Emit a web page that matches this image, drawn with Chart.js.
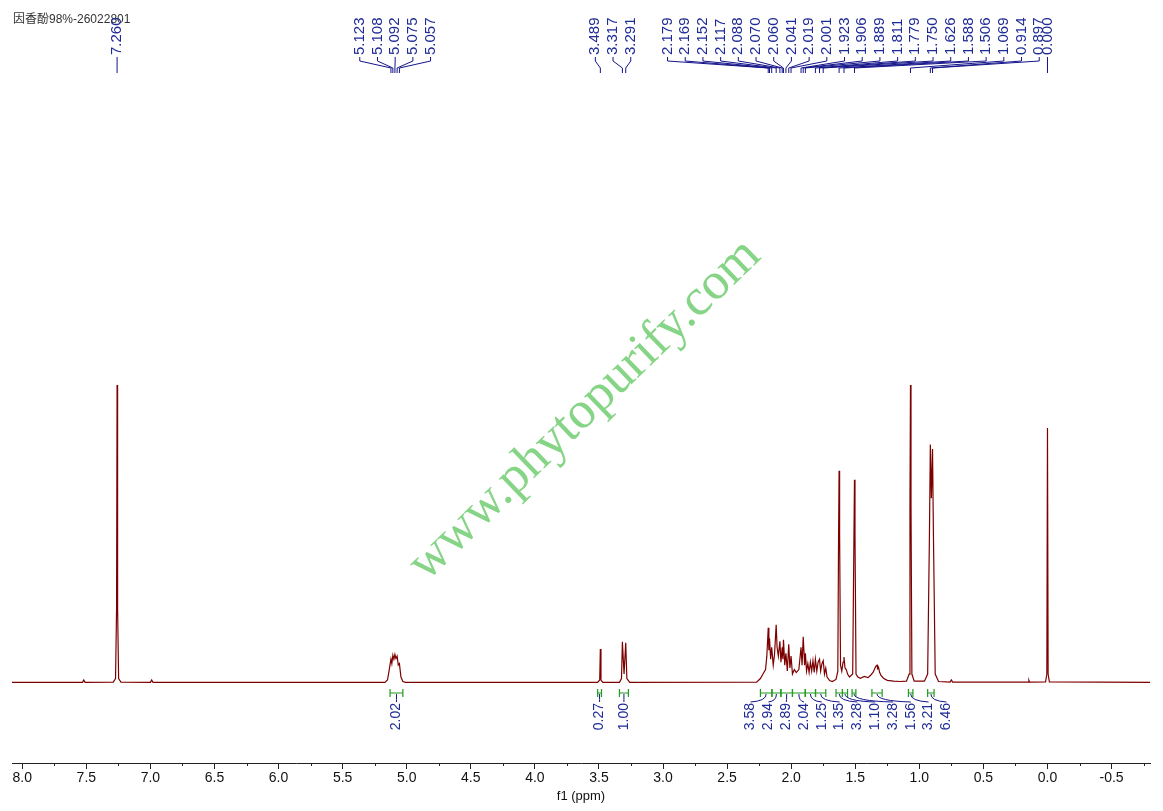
<!DOCTYPE html>
<html>
<head>
<meta charset="utf-8">
<script src="https://cdn.jsdelivr.net/npm/chart.js@4.4.1/dist/chart.umd.min.js"></script>
<style>
  html, body { margin: 0; background: #fff; }
  #wrap { width: 1163px; height: 811px; }
</style>
</head>
<body>
<div id="wrap"><canvas id="nmr"></canvas></div>
<script>
// spectrum trace (ppm / relative intensity)
const specPpm = [8.08, 7.53, 7.52, 7.51, 7.29, 7.272, 7.264, 7.260, 7.256, 7.248, 7.23,
  7.00, 6.99, 6.98,
  5.17, 5.15, 5.14, 5.123, 5.116, 5.108, 5.100, 5.092, 5.084, 5.075, 5.066, 5.057, 5.045, 5.03, 5.01,
  3.51, 3.494, 3.489, 3.484, 3.47,
  3.34, 3.324, 3.317, 3.304, 3.291, 3.282, 3.26,
  2.27, 2.24, 2.22, 2.20, 2.19, 2.179, 2.174, 2.169, 2.160, 2.152, 2.140, 2.130, 2.117, 2.110, 2.100,
  2.088, 2.080, 2.070, 2.065, 2.060, 2.050, 2.041, 2.030, 2.019, 2.010, 2.001, 1.990, 1.975, 1.960,
  1.940, 1.923, 1.915, 1.906, 1.895, 1.889, 1.880, 1.870, 1.860, 1.850, 1.840, 1.830, 1.820, 1.811,
  1.800, 1.790, 1.779, 1.770, 1.760, 1.750, 1.740, 1.730, 1.720, 1.700, 1.680, 1.650,
  1.636, 1.630, 1.626, 1.622, 1.615, 1.605, 1.595, 1.588, 1.580, 1.570, 1.560, 1.545,
  1.520, 1.510, 1.506, 1.502, 1.494, 1.480, 1.460, 1.430, 1.400, 1.380, 1.360, 1.350, 1.340,
  1.330, 1.325, 1.318, 1.310, 1.300, 1.280, 1.250, 1.200, 1.150, 1.100,
  1.080, 1.073, 1.069, 1.065, 1.058, 1.040, 0.960,
  0.935, 0.921, 0.914, 0.906, 0.897, 0.890, 0.876, 0.850,
  0.760, 0.750, 0.740, 0.150, 0.145, 0.140,
  0.015, 0.005, 0.000, -0.005, -0.015, -0.80];
const specInt = [0.2, 0.2, 1.0, 0.2, 0.3, 1.5, 25, 100, 25, 1.5, 0.3,
  0.2, 1.0, 0.2,
  0.2, 1.0, 3.5, 8.0, 6.5, 9.3, 8.0, 9.6, 8.2, 9.0, 6.0, 6.5, 2.0, 0.5, 0.2,
  0.2, 1.0, 11.4, 1.0, 0.2,
  0.2, 1.5, 13.8, 3.0, 13.5, 1.5, 0.2,
  0.3, 1.5, 3.0, 4.5, 9, 18.5, 11, 15, 8, 12, 6, 9.5, 19.5, 12, 9,
  14, 7, 12, 8, 14.5, 6, 10, 4, 13, 5, 9, 3, 4.5, 3.5,
  4.5, 12, 6, 15.5, 6, 10, 4, 6.5, 3.5, 7, 4, 7.5, 3.5, 8,
  4, 7, 8, 4, 6.5, 7.5, 3, 5, 2, 0.8, 0.5, 1.2,
  4, 50, 71.2, 50, 6, 4, 7, 8.7, 5, 4.5, 3, 2,
  3, 50, 68.2, 50, 3, 2, 1.6, 2.2, 1.8, 2.6, 3.6, 4.6, 5.6,
  6.0, 4.8, 5.2, 3.6, 2.6, 1.6, 0.9, 0.6, 0.5, 0.6,
  3, 60, 100, 60, 3, 0.6, 0.6,
  3, 50, 80, 62, 78.5, 50, 3, 0.5,
  0.3, 1.0, 0.3, 0.3, 0.9, 0.3,
  0.4, 3, 85.6, 3, 0.4, 0.2];

// picked peaks and their label groups
const peakPpm = [7.260, 5.123, 5.108, 5.092, 5.075, 5.057, 3.489, 3.317, 3.291,
  2.179, 2.169, 2.152, 2.117, 2.088, 2.070, 2.060, 2.041, 2.019, 2.001, 1.923, 1.906, 1.889,
  1.811, 1.779, 1.750, 1.626, 1.588, 1.506, 1.069, 0.914, 0.897, 0.000];
const peakGroup = [0, 1, 1, 1, 1, 1, 2, 2, 2,
  3, 3, 3, 3, 3, 3, 3, 3, 3, 3, 3, 3, 3, 3, 3, 3, 3, 3, 3, 3, 3, 3, 4];

// integrals
const intFrom = [5.13, 3.51, 3.34, 2.24, 2.15, 2.08, 1.99, 1.89, 1.81, 1.65, 1.60, 1.525, 1.37, 1.085, 0.935];
const intTo   = [5.03, 3.48, 3.27, 2.15, 2.08, 1.99, 1.89, 1.81, 1.73, 1.60, 1.56, 1.495, 1.29, 1.05, 0.885];
const intVal  = [2.02, 0.27, 1.00, 3.58, 2.94, 2.89, 2.04, 1.25, 1.35, 3.28, 1.10, 3.28, 1.56, 3.21, 6.46];
const intGroup = [0, 1, 2, 3, 3, 3, 3, 3, 3, 3, 3, 3, 3, 3, 3];

const xMin = -0.80, xMax = 8.08;
const title = '因香酚98%-26022801';

const points = specPpm.map((p, i) => ({ x: p, y: specInt[i] }));

// spread labels of one group evenly around the middle of its marks
function spread(pix, groups, gap, shift) {
  const out = [];
  const ids = [...new Set(groups)];
  ids.forEach(g => {
    const idx = groups.map((v, i) => v === g ? i : -1).filter(i => i >= 0);
    const xs = idx.map(i => pix[i]);
    const mid = (Math.min(...xs) + Math.max(...xs)) / 2 + (idx.length > 10 ? shift : 0);
    idx.forEach((i, k) => { out[i] = mid + (k - (idx.length - 1) / 2) * gap; });
  });
  return out;
}

const extras = {
  id: 'extras',
  beforeDatasetsDraw(chart) {
    const ctx = chart.ctx;
    ctx.save();
    ctx.translate(585, 410);
    ctx.rotate(-44 * Math.PI / 180);
    ctx.font = '52px "Liberation Serif", serif';
    ctx.fillStyle = '#86d486';
    ctx.textAlign = 'center';
    ctx.textBaseline = 'middle';
    ctx.fillText('www.phytopurify.com', 0, 0);
    ctx.restore();
  },
  afterDraw(chart) {
    const ctx = chart.ctx;
    const xs = chart.scales.x;
    const bottom = chart.chartArea.bottom;

    // title
    ctx.save();
    ctx.font = '12px "Liberation Sans", "Noto Sans CJK SC", sans-serif';
    ctx.fillStyle = '#333';
    ctx.textBaseline = 'middle';
    ctx.fillText(title, 13, 20);
    ctx.restore();

    // minor ticks
    ctx.save();
    ctx.strokeStyle = '#222';
    ctx.lineWidth = 1;
    for (let k = -3; k <= 32; k++) {
      if (k % 2 === 0) continue;
      const px = Math.round(xs.getPixelForValue(k * 0.25)) + 0.5;
      ctx.beginPath();
      ctx.moveTo(px, bottom);
      ctx.lineTo(px, bottom + 3);
      ctx.stroke();
    }
    ctx.restore();

    // peak labels
    const ppx = peakPpm.map(p => xs.getPixelForValue(p));
    const plx = spread(ppx, peakGroup, 17.7, 3);
    ctx.save();
    ctx.strokeStyle = '#14148a';
    ctx.lineWidth = 1;
    ctx.fillStyle = '#1e2a96';
    ctx.font = '15px "Liberation Sans", Arial, sans-serif';
    peakPpm.forEach((p, i) => {
      ctx.beginPath();
      ctx.moveTo(plx[i], 57);
      ctx.lineTo(plx[i], 61);
      ctx.lineTo(ppx[i], 68);
      ctx.lineTo(ppx[i], 73);
      ctx.stroke();
      ctx.save();
      ctx.translate(plx[i], 55);
      ctx.rotate(-Math.PI / 2);
      ctx.textAlign = 'left';
      ctx.textBaseline = 'middle';
      ctx.fillText(p.toFixed(3), 0, 0);
      ctx.restore();
    });
    ctx.restore();

    // integrals
    const bx = intFrom.map((a, i) => (xs.getPixelForValue(a) + xs.getPixelForValue(intTo[i])) / 2);
    const ilx = spread(bx, intGroup, 17.8, 0);
    ctx.save();
    intFrom.forEach((a, i) => {
      const x1 = xs.getPixelForValue(a), x2 = xs.getPixelForValue(intTo[i]);
      ctx.strokeStyle = '#1f9b1f';
      ctx.lineWidth = 1.2;
      ctx.beginPath();
      ctx.moveTo(x1, 693); ctx.lineTo(x2, 693);
      ctx.moveTo(x1, 689); ctx.lineTo(x1, 697);
      ctx.moveTo(x2, 689); ctx.lineTo(x2, 697);
      ctx.stroke();
      ctx.strokeStyle = '#14148a';
      ctx.lineWidth = 1;
      ctx.beginPath();
      ctx.moveTo(bx[i], 694);
      ctx.quadraticCurveTo(bx[i], 701, ilx[i], 702);
      ctx.stroke();
      ctx.save();
      ctx.translate(ilx[i], 703);
      ctx.rotate(-Math.PI / 2);
      ctx.fillStyle = '#1e2a96';
      ctx.font = '14px "Liberation Sans", Arial, sans-serif';
      ctx.textAlign = 'right';
      ctx.textBaseline = 'middle';
      ctx.fillText(intVal[i].toFixed(2), 0, 0);
      ctx.restore();
    });
    ctx.restore();
  }
};

new Chart(document.getElementById('nmr'), {
  type: 'line',
  data: {
    datasets: [{
      data: points,
      borderColor: '#7d0000',
      borderWidth: 1.2,
      pointRadius: 0,
      tension: 0,
      fill: false
    }]
  },
  options: {
    responsive: true,
    maintainAspectRatio: false,
    animation: false,
    layout: { padding: { left: 12, right: 13, top: 80, bottom: 0 } },
    plugins: { legend: { display: false }, tooltip: { enabled: false } },
    scales: {
      x: {
        type: 'linear',
        reverse: true,
        min: xMin,
        max: xMax,
        afterFit: s => { s.height = 48; },
        border: { display: true, color: '#222', width: 1 },
        grid: { display: true, drawOnChartArea: false, drawTicks: true, tickLength: 6, color: '#222' },
        ticks: {
          stepSize: 0.5,
          includeBounds: false,
          autoSkip: false,
          maxRotation: 0,
          padding: 1,
          color: '#111',
          font: { family: '"Liberation Sans", Arial, sans-serif', size: 14 },
          callback: v => Number(v).toFixed(1)
        },
        title: {
          display: true,
          text: 'f1 (ppm)',
          color: '#111',
          font: { family: '"Liberation Sans", Arial, sans-serif', size: 13 },
          padding: { top: 0, bottom: 7 }
        }
      },
      y: {
        display: false,
        min: -26.85,
        max: 202.35
      }
    }
  },
  plugins: [extras]
});
</script>
</body>
</html>
